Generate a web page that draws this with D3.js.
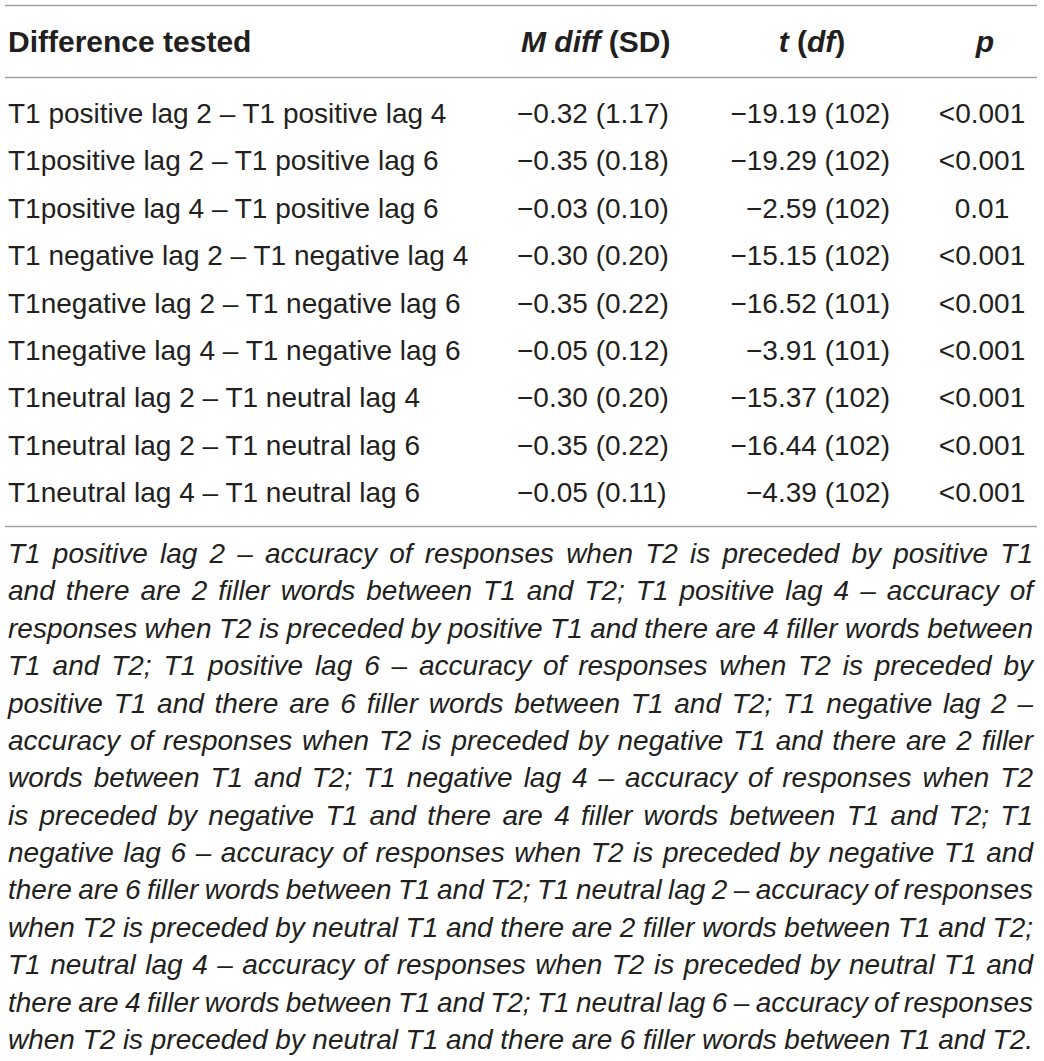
<!DOCTYPE html>
<html>
<head>
<meta charset="utf-8">
<script src="https://cdn.jsdelivr.net/npm/d3@7"></script>
<style>
  html, body { margin: 0; padding: 0; background: #fff; }
  svg { display: block; }
  text { font-family: "Liberation Sans", Arial, Helvetica, sans-serif; fill: #231f20; }
</style>
</head>
<body>
<div id="table-container"></div>
<script>
// table values
var comparisons = [
    "T1 positive lag 2 \u2013 T1 positive lag 4",
    "T1positive lag 2 \u2013 T1 positive lag 6",
    "T1positive lag 4 \u2013 T1 positive lag 6",
    "T1 negative lag 2 \u2013 T1 negative lag 4",
    "T1negative lag 2 \u2013 T1 negative lag 6",
    "T1negative lag 4 \u2013 T1 negative lag 6",
    "T1neutral lag 2 \u2013 T1 neutral lag 4",
    "T1neutral lag 2 \u2013 T1 neutral lag 6",
    "T1neutral lag 4 \u2013 T1 neutral lag 6"
];
var meanDiff = [-0.32, -0.35, -0.03, -0.30, -0.35, -0.05, -0.30, -0.35, -0.05];
var sdDiff = [1.17, 0.18, 0.10, 0.20, 0.22, 0.12, 0.20, 0.22, 0.11];
var tValues = [-19.19, -19.29, -2.59, -15.15, -16.52, -3.91, -15.37, -16.44, -4.39];
var dfValues = [102, 102, 102, 102, 101, 101, 102, 102, 102];
var pValues = ["<0.001", "<0.001", "0.01", "<0.001", "<0.001", "<0.001", "<0.001", "<0.001", "<0.001"];

var footnoteLines = [
    "T1 positive lag 2 \u2013 accuracy of responses when T2 is preceded by positive T1",
    "and there are 2 filler words between T1 and T2; T1 positive lag 4 \u2013 accuracy of",
    "responses when T2 is preceded by positive T1 and there are 4 filler words between",
    "T1 and T2; T1 positive lag 6 \u2013 accuracy of responses when T2 is preceded by",
    "positive T1 and there are 6 filler words between T1 and T2; T1 negative lag 2 \u2013",
    "accuracy of responses when T2 is preceded by negative T1 and there are 2 filler",
    "words between T1 and T2; T1 negative lag 4 \u2013 accuracy of responses when T2",
    "is preceded by negative T1 and there are 4 filler words between T1 and T2; T1",
    "negative lag 6 \u2013 accuracy of responses when T2 is preceded by negative T1 and",
    "there are 6 filler words between T1 and T2; T1 neutral lag 2 \u2013 accuracy of responses",
    "when T2 is preceded by neutral T1 and there are 2 filler words between T1 and T2;",
    "T1 neutral lag 4 \u2013 accuracy of responses when T2 is preceded by neutral T1 and",
    "there are 4 filler words between T1 and T2; T1 neutral lag 6 \u2013 accuracy of responses",
    "when T2 is preceded by neutral T1 and there are 6 filler words between T1 and T2."
];

var width = 1044,
    height = 1061,
    fontSize = 28,
    headSize = 30,
    left = 8,
    right = 1033,
    rules = ["top", "header", "bottom"],
    fmt = d3.format(".2f");

var svg = d3.select("#table-container").append("svg")
    .attr("width", width)
    .attr("height", height);

// layout scales
var ruleY = d3.scaleOrdinal()
    .domain(rules)
    .range([5.5, 77.5, 526.5]);

var rowY = d3.scalePoint()
    .domain(d3.range(comparisons.length))
    .range([123, 502]);

var colX = d3.scaleOrdinal()
    .domain(["label", "mdiff", "t", "p"])
    .range([left, 517, 890, 982]);

var noteY = d3.scaleLinear()
    .domain([0, footnoteLines.length - 1])
    .range([563, 1049]);

// horizontal rules
svg.append("g")
    .selectAll("line")
    .data(rules)
    .enter().append("line")
        .attr("x1", 5)
        .attr("x2", 1037)
        .attr("y1", function(d) { return ruleY(d); })
        .attr("y2", function(d) { return ruleY(d); })
        .attr("stroke", "#a3a3a3")
        .attr("stroke-width", 1.6);

// header
var header = svg.append("g")
    .attr("font-size", headSize)
    .attr("font-weight", "bold");

header.append("text")
    .attr("x", colX("label"))
    .attr("y", 52)
    .text("Difference tested");

var hm = header.append("text")
    .attr("x", colX("mdiff") + 4)
    .attr("y", 52);
hm.append("tspan").attr("font-style", "italic").text("M diff");
hm.append("tspan").text(" (SD)");

var ht = header.append("text")
    .attr("x", 812)
    .attr("y", 52)
    .attr("text-anchor", "middle");
ht.append("tspan").attr("font-style", "italic").text("t");
ht.append("tspan").text(" (");
ht.append("tspan").attr("font-style", "italic").text("df");
ht.append("tspan").text(")");

header.append("text")
    .attr("x", colX("p") + 3)
    .attr("y", 52)
    .attr("text-anchor", "middle")
    .attr("font-style", "italic")
    .text("p");

// body rows
var rows = svg.append("g")
    .attr("font-size", fontSize)
    .selectAll("g")
    .data(d3.range(comparisons.length))
    .enter().append("g")
        .attr("transform", function(i) { return "translate(0," + rowY(i) + ")"; });

rows.append("text")
    .attr("x", colX("label"))
    .text(function(i) { return comparisons[i]; });

rows.append("text")
    .attr("x", colX("mdiff"))
    .text(function(i) { return fmt(meanDiff[i]) + " (" + fmt(sdDiff[i]) + ")"; });

rows.append("text")
    .attr("x", colX("t"))
    .attr("text-anchor", "end")
    .text(function(i) { return fmt(tValues[i]) + " (" + dfValues[i] + ")"; });

rows.append("text")
    .attr("x", colX("p"))
    .attr("text-anchor", "middle")
    .text(function(i) { return pValues[i]; });

// footnote, justified word by word
var note = svg.append("g")
    .attr("font-size", fontSize)
    .attr("font-style", "italic");

footnoteLines.forEach(function(line, k) {
    var words = line.split(" "),
        g = note.append("g").attr("transform", "translate(0," + noteY(k) + ")");
    var nodes = words.map(function(w) {
        return g.append("text").text(w);
    });
    var widths = nodes.map(function(n) { return n.node().getComputedTextLength(); }),
        total = d3.sum(widths),
        avail = right - left,
        minGap = fontSize * 0.18,
        scale = 1,
        gap = (avail - total) / (words.length - 1);
    if (gap < minGap) {
        gap = minGap;
        scale = (avail - minGap * (words.length - 1)) / total;
    }
    var x = left;
    nodes.forEach(function(n, j) {
        var w = widths[j] * scale;
        n.attr("x", x);
        if (scale < 1) n.attr("textLength", w).attr("lengthAdjust", "spacingAndGlyphs");
        x += w + gap;
    });
});
</script>
</body>
</html>
